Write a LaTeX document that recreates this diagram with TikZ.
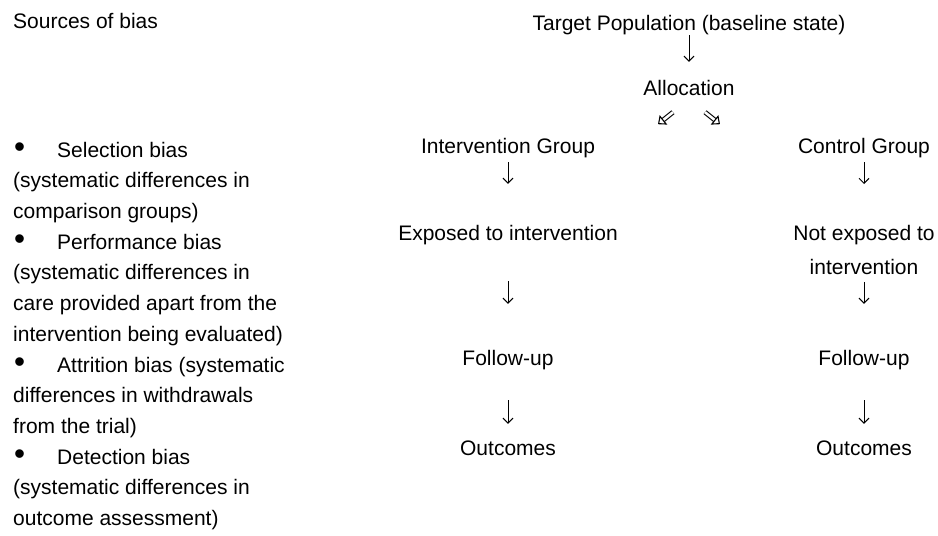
\documentclass[tikz,border=0pt]{standalone}
\usepackage{fontspec}
\setmainfont{Liberation Sans}
\usepackage{tikz}
\usetikzlibrary{arrows.meta}

\newcommand{\biasdot}{\makebox[44pt][l]{\hspace{1pt}\scalebox{1.5}{•}}}

\begin{document}
\begin{tikzpicture}[x=1pt, y=-1pt,
    every node/.style={font=\fontsize{21}{30.7}\selectfont},
    txt/.style={inner sep=0pt, text height=15pt, text depth=5pt, anchor=base},
    arr/.style={line width=1pt, -{Straight Barb[length=5pt,width=10pt]}},
    hollow/.style={double, double distance=2.6pt, line width=1.1pt, -{Triangle[open,length=7pt,width=12pt]}}]
  \fill[white] (0,0) rectangle (938,536);
  \useasboundingbox (0,0) rectangle (938,536);

  % left column
  \node[inner sep=0pt, anchor=base west] (src) at (13,28) {Sources of bias};
  \node[inner sep=0pt, anchor=north west, align=left] (bias) at (13,141.7) {%
    \biasdot Selection bias\\
    (systematic differences in\\
    comparison groups)\\
    \biasdot Performance bias\\
    (systematic differences in\\
    care provided apart from the\\
    intervention being evaluated)\\
    \biasdot Attrition bias (systematic\\
    differences in withdrawals\\
    from the trial)\\
    \biasdot Detection bias\\
    (systematic differences in\\
    outcome assessment)};

  % trial flow
  \node[txt] (target) at (689,30) {Target Population (baseline state)};
  \node[txt] (alloc) at (689,95) {Allocation};
  \node[txt] (igroup) at (508,153) {Intervention Group};
  \node[txt] (cgroup) at (864,153) {Control Group};
  \node[txt] (expo) at (508,240) {Exposed to intervention};
  \node[inner sep=0pt, anchor=north, align=center,
        font=\fontsize{21}{34}\selectfont] (noexpo) at (864,225) {Not exposed to\\intervention};
  \node[txt] (ifollow) at (508,365) {Follow-up};
  \node[txt] (cfollow) at (864,365) {Follow-up};
  \node[txt] (iout) at (508,455) {Outcomes};
  \node[txt] (cout) at (864,455) {Outcomes};

  \draw[arr, shorten >=18pt] (target) -- (alloc);
  \coordinate (al1) at ([shift={(-16,12)}]alloc.south);
  \coordinate (al2) at ([shift={(-31,24)}]alloc.south);
  \coordinate (ar1) at ([shift={(16,12)}]alloc.south);
  \coordinate (ar2) at ([shift={(31,24)}]alloc.south);
  \draw[hollow] (al1) -- (al2);
  \draw[hollow] (ar1) -- (ar2);

  \draw[arr, shorten <=4pt, shorten >=41pt] (igroup) -- (expo);
  \draw[arr, shorten <=4pt, shorten >=41pt] (cgroup) -- (noexpo);
  \draw[arr, shorten <=36pt, shorten >=46pt] (expo) -- (ifollow);
  \draw[arr, shorten <=7pt, shorten >=46pt] (noexpo) -- (cfollow);
  \draw[arr, shorten <=30pt, shorten >=16pt] (ifollow) -- (iout);
  \draw[arr, shorten <=30pt, shorten >=16pt] (cfollow) -- (cout);
\end{tikzpicture}
\end{document}
